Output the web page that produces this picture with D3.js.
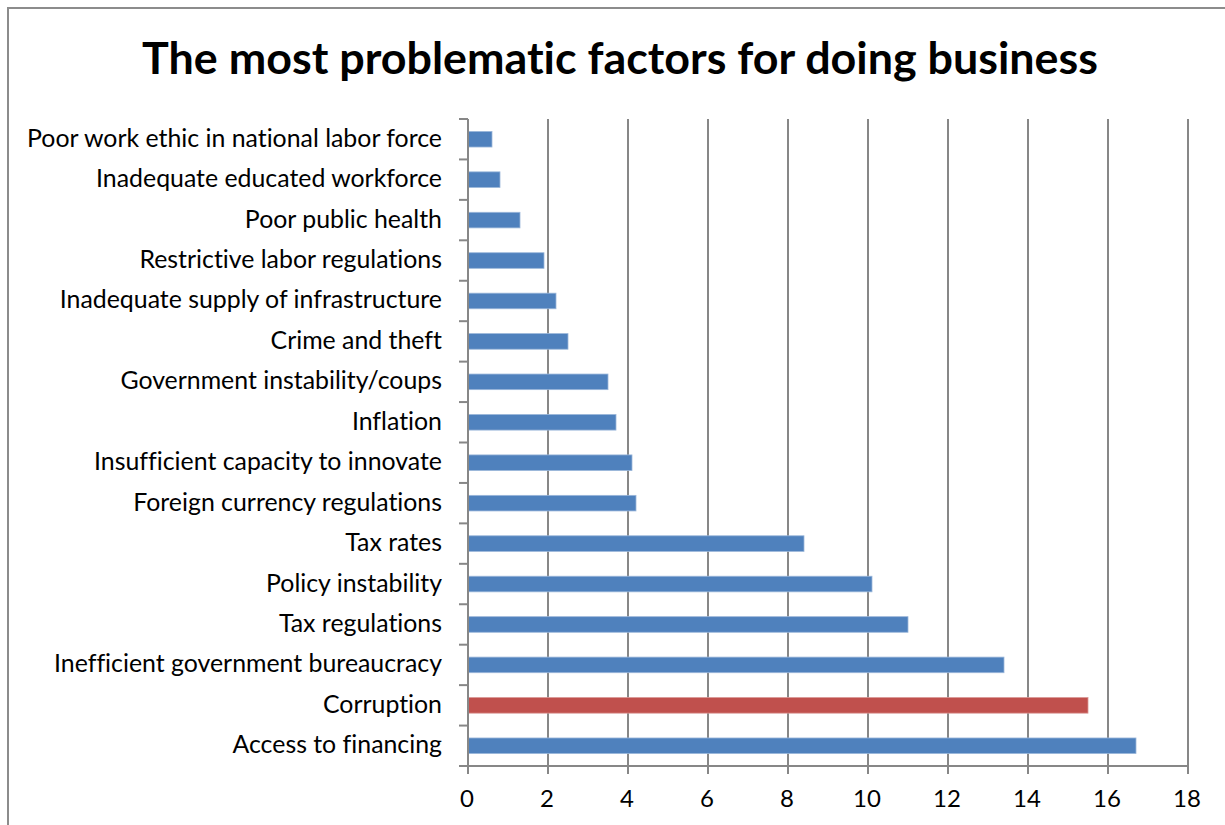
<!DOCTYPE html>
<html>
<head>
<meta charset="utf-8">
<script src="https://cdn.jsdelivr.net/npm/d3@7"></script>
<style>
  html, body { margin: 0; padding: 0; background: #fff; }
  svg { display: block; }
  text { font-family: Lato, "Open Sans", sans-serif; fill: #000; font-variant-ligatures: none; font-feature-settings: "liga" 0, "clig" 0; }
</style>
</head>
<body>
<svg id="chart" width="1225" height="825"></svg>
<script>
// ---- data (top to bottom as drawn) ----
const categories = [
  "Poor work ethic in national labor force",
  "Inadequate educated workforce",
  "Poor public health",
  "Restrictive labor regulations",
  "Inadequate supply of infrastructure",
  "Crime and theft",
  "Government instability/coups",
  "Inflation",
  "Insufficient capacity to innovate",
  "Foreign currency regulations",
  "Tax rates",
  "Policy instability",
  "Tax regulations",
  "Inefficient government bureaucracy",
  "Corruption",
  "Access to financing"
];
const values = [0.6, 0.8, 1.3, 1.9, 2.2, 2.5, 3.5, 3.7, 4.1, 4.2, 8.4, 10.1, 11.0, 13.4, 15.5, 16.7];
const highlighted = ["Corruption"];
const xTickValues = [0, 2, 4, 6, 8, 10, 12, 14, 16, 18];
const titleText = "The most problematic factors for doing business";

const svg = d3.select("#chart");
const gridColor = "#878787";

// outer frame (chart border, cropped on right and bottom)
svg.append("path")
  .attr("d", "M8,830 L8,8 L1230,8")
  .attr("fill", "none")
  .attr("stroke", "#8c8c8c")
  .attr("stroke-width", 2);

const x = d3.scaleLinear().domain([0, 18]).range([468, 1188]);
const y = d3.scaleBand().domain(categories).range([119, 766])
  .paddingInner(0.614).paddingOuter(0.307);
const step = y.step();

// vertical gridlines
svg.append("g").selectAll("line").data(xTickValues.filter(v => v > 0)).join("line")
  .attr("x1", d => x(d)).attr("x2", d => x(d))
  .attr("y1", 119).attr("y2", 766)
  .attr("stroke", gridColor).attr("stroke-width", 2);

// bars
svg.append("g").selectAll("rect").data(categories).join("rect")
  .attr("x", x(0))
  .attr("y", d => y(d))
  .attr("width", (d, i) => x(values[i]) - x(0))
  .attr("height", y.bandwidth())
  .attr("fill", d => highlighted.includes(d) ? "#C0504D" : "#4F81BD")
  .attr("stroke", d => highlighted.includes(d) ? "#D99795" : "#9BB7DA")
  .attr("stroke-width", 0.8);

// y axis line + category ticks
const bounds = categories.map(c => y(c) - (step - y.bandwidth()) / 2).concat([766]);
svg.append("line").attr("x1", x(0)).attr("x2", x(0)).attr("y1", 119).attr("y2", 766)
  .attr("stroke", gridColor).attr("stroke-width", 2);
svg.append("g").selectAll("line").data(bounds).join("line")
  .attr("x1", x(0) - 9).attr("x2", x(0))
  .attr("y1", d => d).attr("y2", d => d)
  .attr("stroke", gridColor).attr("stroke-width", 2);

// x axis line + ticks
svg.append("line").attr("x1", x(0) - 9).attr("x2", x(18)).attr("y1", 766).attr("y2", 766)
  .attr("stroke", gridColor).attr("stroke-width", 2);
svg.append("g").selectAll("line").data(xTickValues).join("line")
  .attr("x1", d => x(d)).attr("x2", d => x(d))
  .attr("y1", 766).attr("y2", 774)
  .attr("stroke", gridColor).attr("stroke-width", 2);

// x tick labels
svg.append("g").selectAll("text").data(xTickValues).join("text")
  .attr("x", d => x(d) - 1)
  .attr("y", 807)
  .attr("text-anchor", "middle")
  .attr("font-size", 24)
  .text(d => d);

// category labels
const labels = svg.append("g").selectAll("text").data(categories).join("text")
  .attr("x", 442)
  .attr("y", d => y(d) + y.bandwidth() / 2 + 7.5)
  .attr("text-anchor", "end")
  .attr("font-size", 22)
  .text(d => d);
// fit font size so the longest label spans like the reference (~415px)
let maxW = 0;
labels.each(function() { maxW = Math.max(maxW, this.getComputedTextLength()); });
const labelSize = 22 * 415 / maxW;
labels.attr("font-size", labelSize);

// title
const title = svg.append("text")
  .attr("x", 620)
  .attr("y", 74)
  .attr("text-anchor", "middle")
  .attr("font-weight", "bold")
  .attr("font-size", 42)
  .text(titleText);
const tw = title.node().getComputedTextLength();
title.attr("font-size", 42 * 956 / tw);
</script>
</body>
</html>
